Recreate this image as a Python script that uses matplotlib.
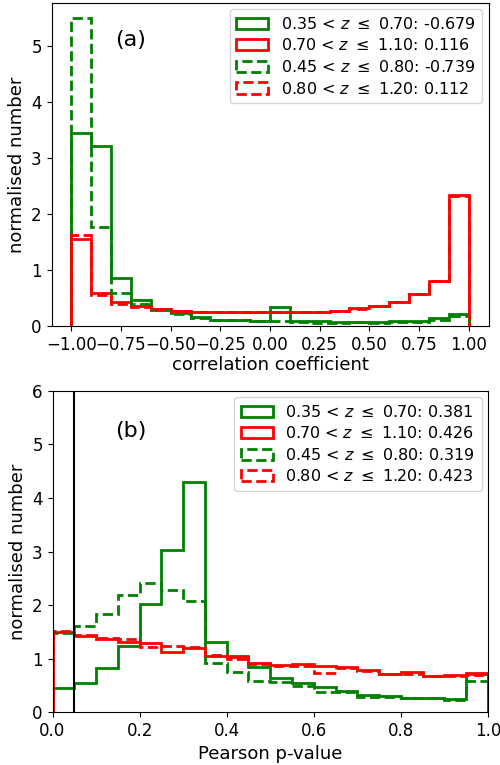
import numpy as np
import matplotlib
matplotlib.use("Agg")
import matplotlib.pyplot as plt

# histogram bin edges for the two panels
corr_edges = np.linspace(-1.0, 1.0, 21)
pval_edges = np.linspace(0.0, 1.0, 21)

labels = [
    r"0.35 < $z$ $\leq$ 0.70: -0.679",
    r"0.70 < $z$ $\leq$ 1.10: 0.116",
    r"0.45 < $z$ $\leq$ 0.80: -0.739",
    r"0.80 < $z$ $\leq$ 1.20: 0.112",
]
labels_p = [
    r"0.35 < $z$ $\leq$ 0.70: 0.381",
    r"0.70 < $z$ $\leq$ 1.10: 0.426",
    r"0.45 < $z$ $\leq$ 0.80: 0.319",
    r"0.80 < $z$ $\leq$ 1.20: 0.423",
]

# normalised counts per bin, correlation coefficient
corr_g1 = [3.45, 3.21, 0.85, 0.46, 0.30, 0.23, 0.16, 0.11, 0.10, 0.09,
           0.33, 0.08, 0.08, 0.07, 0.07, 0.07, 0.08, 0.08, 0.15, 0.22]
corr_r1 = [1.56, 0.58, 0.43, 0.35, 0.30, 0.26, 0.25, 0.24, 0.25, 0.24,
           0.25, 0.24, 0.25, 0.27, 0.32, 0.36, 0.43, 0.57, 0.81, 2.34]
corr_g2 = [5.50, 1.77, 0.59, 0.40, 0.29, 0.22, 0.15, 0.11, 0.10, 0.09,
           0.09, 0.07, 0.06, 0.06, 0.07, 0.06, 0.07, 0.07, 0.10, 0.18]
corr_r2 = [1.62, 0.56, 0.39, 0.33, 0.29, 0.26, 0.25, 0.24, 0.24, 0.25,
           0.24, 0.25, 0.25, 0.27, 0.31, 0.36, 0.43, 0.57, 0.80, 2.33]

# normalised counts per bin, Pearson p-value
pval_g1 = [0.46, 0.54, 0.82, 1.24, 2.02, 3.03, 4.30, 1.31, 1.05, 0.85,
           0.63, 0.55, 0.48, 0.40, 0.32, 0.30, 0.27, 0.26, 0.24, 0.71]
pval_r1 = [1.50, 1.43, 1.37, 1.31, 1.30, 1.13, 1.19, 1.05, 1.04, 0.91,
           0.88, 0.90, 0.86, 0.85, 0.79, 0.71, 0.75, 0.68, 0.70, 0.73]
pval_g2 = [1.47, 1.61, 1.83, 2.18, 2.42, 2.29, 2.08, 0.91, 0.76, 0.59,
           0.57, 0.49, 0.37, 0.37, 0.29, 0.29, 0.26, 0.26, 0.23, 0.59]
pval_r2 = [1.52, 1.45, 1.39, 1.36, 1.22, 1.24, 1.21, 1.07, 0.99, 0.90,
           0.87, 0.87, 0.74, 0.82, 0.77, 0.71, 0.71, 0.67, 0.67, 0.70]

styles = [("green", "-"), ("red", "-"), ("green", "--"), ("red", "--")]

plt.rcParams["font.size"] = 12
plt.rcParams["axes.labelsize"] = 13

fig = plt.figure(figsize=(5, 7.65), dpi=100)
ax1 = fig.add_axes([0.103, 0.574, 0.874, 0.422])
ax2 = fig.add_axes([0.105, 0.069, 0.871, 0.420])


def draw_hists(ax, edges, series, labs):
    centres = 0.5 * (edges[:-1] + edges[1:])
    for vals, (col, ls), lab in zip(series, styles, labs):
        ax.hist(centres, bins=edges, weights=vals, histtype="step",
                color=col, linestyle=ls, linewidth=2, label=lab)


draw_hists(ax1, corr_edges, [corr_g1, corr_r1, corr_g2, corr_r2], labels)
ax1.set_xlabel("correlation coefficient", labelpad=2)
ax1.set_ylabel("normalised number")
ax1.set_xticks([-1.0, -0.75, -0.5, -0.25, 0.0, 0.25, 0.5, 0.75, 1.0])
ax1.legend(loc="upper right", fontsize=11.5, handlelength=2.0,
           borderaxespad=0.4, labelspacing=0.35)
ax1.text(0.18, 0.885, "(a)", transform=ax1.transAxes, fontsize=16,
         ha="center", va="center")

draw_hists(ax2, pval_edges, [pval_g1, pval_r1, pval_g2, pval_r2], labels_p)
ax2.axvline(0.05, color="black", linewidth=1.5)
ax2.set_xlim(0, 1)
ax2.set_ylim(0, 6)
ax2.set_xlabel("Pearson p-value")
ax2.set_ylabel("normalised number")
ax2.legend(loc="upper right", fontsize=11.5, handlelength=2.0,
           borderaxespad=0.4, labelspacing=0.35)
ax2.text(0.18, 0.875, "(b)", transform=ax2.transAxes, fontsize=16,
         ha="center", va="center")

fig.savefig("out.png", dpi=100)
